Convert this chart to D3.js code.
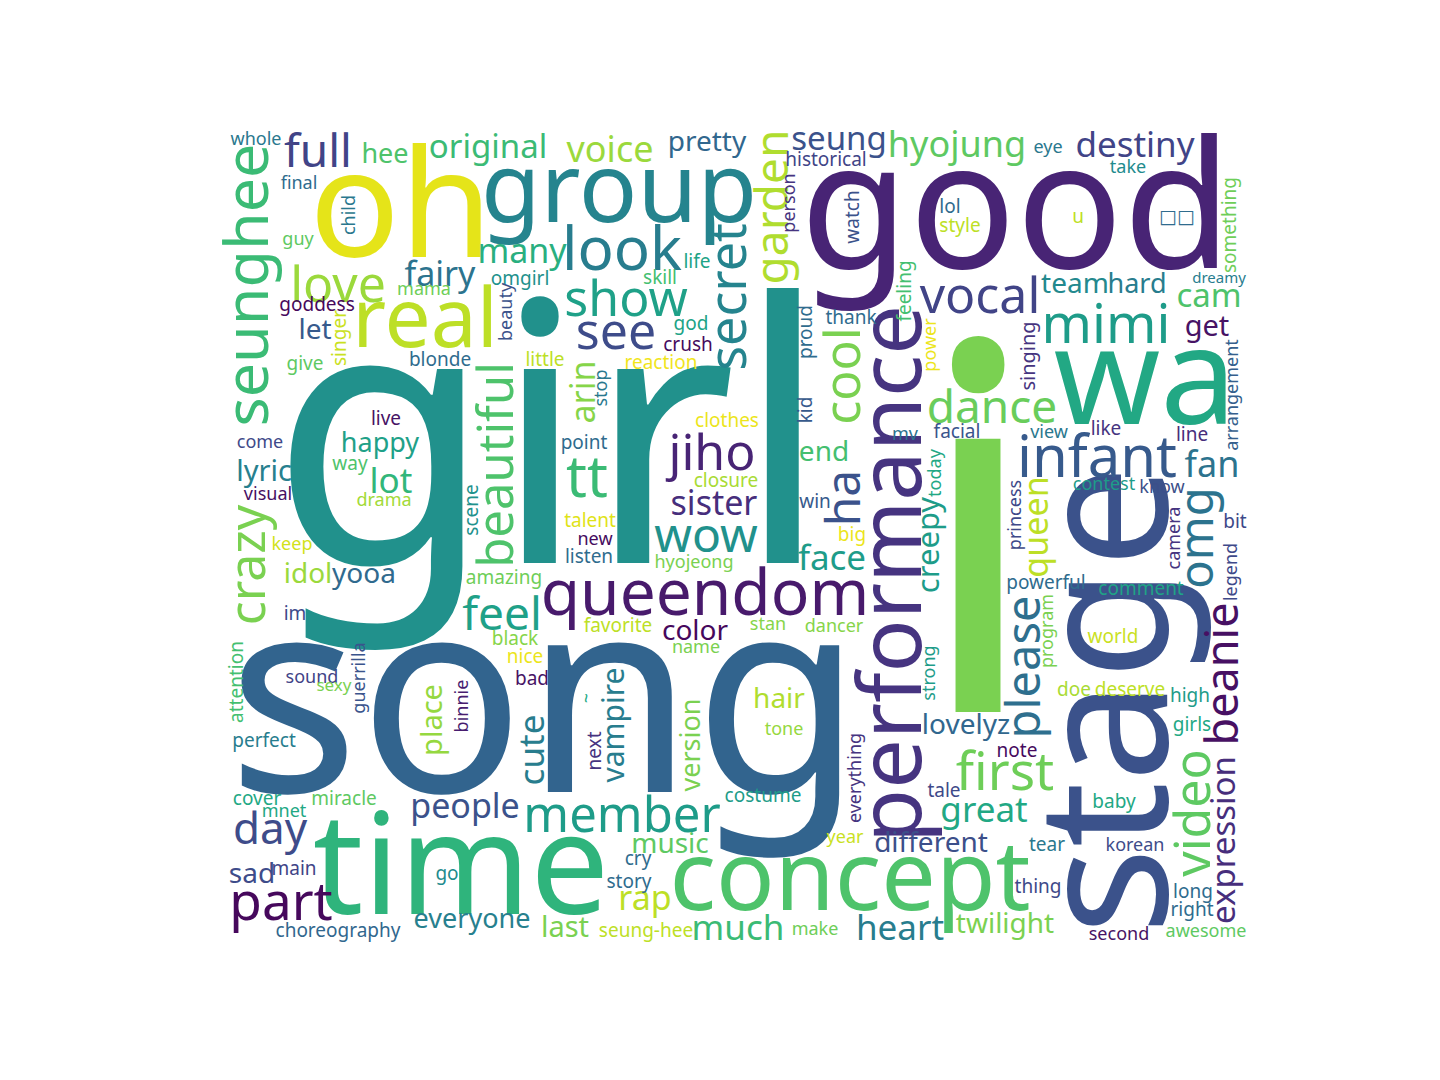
<!DOCTYPE html>
<html>
<head>
<meta charset="utf-8">
<script src="https://cdn.jsdelivr.net/npm/d3@7"></script>
<style>
	body { margin: 0; background: #fff; }
	.word { font-family: "Noto Sans", "Open Sans", "DejaVu Sans", sans-serif; }
</style>
</head>
<body>
<div id="chart"></div>
<script>
// word list, in layout order (biggest first)
var words = [
	"girl","song","i","stage","good","time","oh","wa","performance","group",
	"concept","real","queendom","seunghee","look","infant","tt","mimi","first","part",
	"secret","crazy","beautiful","see","show","vocal","jiho","cool","omg","video",
	"love","member","wow","ha","please","day","full","garden","dance","feel",
	"beanie","fan","hyojung","voice","creepy","cute","face","great","destiny","lot",
	"much","heart","queen","sister","fairy","arin","rap","people","seung","original",
	"many","cam","expression","vampire","lyric","place","last","get","let","pretty",
	"team","end","idol","yooa","color","hair","lovelyz","sad","music","different",
	"twilight","hee","hard","happy","version","everyone","singing","whole","final","child",
	"guy","omgirl","mama","beauty","goddess","singer","historical","person","watch","life",
	"skill","god","thank","proud","feeling","eye","take","lol","style","u",
	"\u25a1\u25a1","something","dreamy","give","blonde","little","live","come","way","visual",
	"drama","scene","crush","reaction","stop","kid","mv","clothes","point","closure",
	"win","talent","new","big","power","arrangement","facial","view","like","line",
	"contest","know","today","princess","bit","camera","legend","powerful","comment","strong",
	"program","world","doe","deserve","high","girls","note","tale","baby","tear",
	"korean","thing","long","right","second","awesome","keep","amazing","im","black",
	"nice","bad","attention","sound","sexy","guerrilla","binnie","perfect","listen","hyojeong",
	"favorite","stan","dancer","name","~","tone","next","everything","cover","miracle",
	"mnet","main","choreography","go","costume","year","cry","story","seung-hee","make"
];

// font size of each word, in cloud units
var sizes = [
	362,274,510,182,177,140,150,136,88,97,
	97,82,64,61,60,58,58,54,53,53,
	52,50,49,50,50,50,50,50,47,50,
	50,49,48,48,47,44,46,46,46,46,
	45,36,36,36,31,35,35,35,35,35,
	35,35,34,34,34,34,34,34,33,33,
	34,33,33,30,29,29,29,29,28,28,
	28,28,28,28,28,28,28,28,28,28,
	28,27,27,27,27,27,20,18,18,18,
	18,19,18,18,19,19,19,18,19,19,
	19,19,19,19,19,18,18,19,19,19,
	19,19,15,19,19,19,19,18,19,18,
	18,19,19,19,18,19,18,19,19,19,
	19,19,18,19,18,18,19,18,19,19,
	18,18,18,18,19,18,18,19,19,18,
	18,19,19,19,19,19,19,19,19,19,
	18,19,19,19,18,18,18,19,19,19,
	19,19,19,18,17,18,18,19,19,18,
	19,18,18,18,18,18,19,18,19,19,
	18,19,19,19,19,18,19,19,19,18
];

// anchor of each word in the cloud: centre along the text, on the baseline
var posX = [
	332,327,760,949,798,243,183,927,703,401,
	632,207,487,50,404,879,369,888,787,63,
	528,47,295,398,408,762,494,642,995,992,
	120,404,488,642,822,52,100,570,774,284,
	1020,994,739,392,721,326,614,766,917,173,
	520,682,830,496,222,377,427,247,621,270,
	304,991,1017,406,46,224,347,989,97,489,
	857,606,90,146,477,561,748,34,452,713,
	787,167,919,162,482,254,817,38,81,137,
	80,302,206,294,99,128,608,577,641,479,
	442,473,633,594,693,830,910,732,742,860,
	959,1018,1001,87,222,327,168,42,132,50,
	166,260,470,443,389,594,687,509,366,508,
	597,372,377,634,718,1020,739,831,888,974,
	886,944,723,803,1017,962,1019,828,923,717,
	835,895,856,912,972,974,799,726,896,829,
	917,820,975,974,901,988,74,286,77,297,
	307,314,25,94,116,147,250,46,371,476,
	400,550,616,478,375,566,383,643,39,126,
	66,76,120,229,545,627,420,411,428,597
];

var posY = [
	433,662,582,570,138,784,127,294,444,92,
	780,217,485,155,140,347,367,213,660,790,
	167,435,335,219,186,183,340,246,408,683,
	172,702,422,368,537,714,37,77,293,500,
	544,347,27,32,415,620,440,692,27,363,
	810,810,397,385,156,262,780,688,20,28,
	133,177,710,595,351,590,807,206,209,21,
	163,331,453,453,510,578,604,753,723,722,
	803,33,163,322,615,798,226,15,59,85,
	115,155,165,182,181,208,36,73,87,138,
	154,200,194,202,161,23,43,83,102,93,
	93,95,153,240,236,236,295,318,340,370,
	376,380,221,239,258,280,310,297,319,357,
	378,397,415,411,215,265,308,308,305,311,
	360,363,343,385,398,408,442,459,465,543,
	501,513,566,566,572,601,627,667,678,721,
	721,763,768,786,810,807,420,454,490,515,
	533,555,552,553,561,548,576,617,433,438,
	502,500,502,523,568,605,621,648,675,675,
	687,745,807,750,672,713,735,758,807,805
];

// 1 = word turned to read bottom to top
var turned = [
	0,0,0,1,0,0,0,0,1,0,
	0,0,0,1,0,0,0,0,0,0,
	1,1,1,0,0,0,0,1,1,1,
	0,0,0,1,1,0,0,1,0,0,
	1,0,0,0,1,1,0,0,0,0,
	0,0,1,0,0,1,0,0,0,0,
	0,0,1,1,0,1,0,0,0,0,
	0,0,0,0,0,0,0,0,0,0,
	0,0,0,0,1,0,1,0,0,1,
	0,0,0,1,0,1,0,1,1,0,
	0,0,0,1,1,0,0,0,0,0,
	0,1,0,0,0,0,0,0,0,0,
	0,1,0,0,1,1,0,0,0,0,
	0,0,0,0,1,1,0,0,0,0,
	0,0,1,1,0,1,1,0,0,1,
	1,0,0,0,0,0,0,0,0,0,
	0,0,0,0,0,0,0,0,0,0,
	0,0,1,0,0,1,1,0,0,0,
	0,0,0,0,1,0,1,1,0,0,
	0,0,0,0,0,0,0,0,0,0
];

// position of each word's colour on the viridis ramp
var shade = [
	.50,.32,.80,.25,.10,.65,.96,.60,.15,.45,
	.72,.90,.07,.68,.42,.28,.68,.55,.78,.02,
	.45,.80,.72,.23,.57,.20,.10,.80,.38,.75,
	.85,.55,.50,.25,.36,.23,.20,.88,.77,.57,
	.04,.38,.75,.85,.55,.42,.55,.60,.20,.66,
	.68,.42,.90,.13,.38,.82,.90,.25,.25,.68,
	.63,.72,.13,.42,.43,.84,.80,.05,.28,.33,
	.47,.70,.85,.34,.02,.88,.33,.23,.75,.24,
	.80,.72,.42,.57,.80,.43,.15,.40,.35,.40,
	.75,.50,.78,.25,.02,.92,.20,.15,.25,.58,
	.70,.58,.35,.35,.70,.40,.48,.35,.90,.90,
	.35,.78,.42,.75,.35,.90,.05,.22,.72,.04,
	.86,.50,.03,.98,.40,.28,.38,.97,.35,.87,
	.28,.95,.03,.97,.97,.30,.26,.40,.15,.13,
	.55,.24,.60,.22,.22,.15,.22,.35,.58,.55,
	.80,.92,.87,.90,.55,.60,.03,.22,.60,.40,
	.23,.22,.35,.35,.05,.75,.93,.78,.22,.82,
	.97,.05,.70,.20,.80,.26,.08,.42,.35,.80,
	.90,.82,.82,.80,.60,.84,.15,.15,.60,.75,
	.60,.20,.33,.48,.55,.92,.35,.35,.90,.78
];

var width = 1440,
	height = 1080;

// the cloud image sits inside the (hidden) axes box
var cloud_w = 1040,
	cloud_h = 832;

var x = d3.scaleLinear().domain([0, cloud_w]).range([218, 1258]);
var y = d3.scaleLinear().domain([0, cloud_h]).range([130, 962]);
var fontSize = d3.scaleLinear().domain([0, cloud_h]).range([0, y(cloud_h) - y(0)]);
var color = d3.scaleSequential(d3.interpolateViridis).domain([0, 1]);

var data = words.map(function(w, i){
	return {
		text: w,
		size: sizes[i],
		x: posX[i],
		y: posY[i],
		turned: turned[i],
		shade: shade[i]
	};
});

var svg = d3.select("#chart").append("svg")
	.attr("width", width)
	.attr("height", height);

svg.append("rect")
	.attr("width", width)
	.attr("height", height)
	.style("fill", "#fff");

svg.append("g").selectAll(".word")
		.data(data)
	.enter().append("text")
		.attr("class", "word")
		.attr("transform", function(d){
			return "translate(" + x(d.x) + "," + y(d.y) + ")" + (d.turned ? " rotate(-90)" : "");
		})
		.attr("text-anchor", "middle")
		.style("font-size", function(d){ return fontSize(d.size) + "px"; })
		.style("fill", function(d){ return color(d.shade); })
		.text(function(d){ return d.text; });
</script>
</body>
</html>
